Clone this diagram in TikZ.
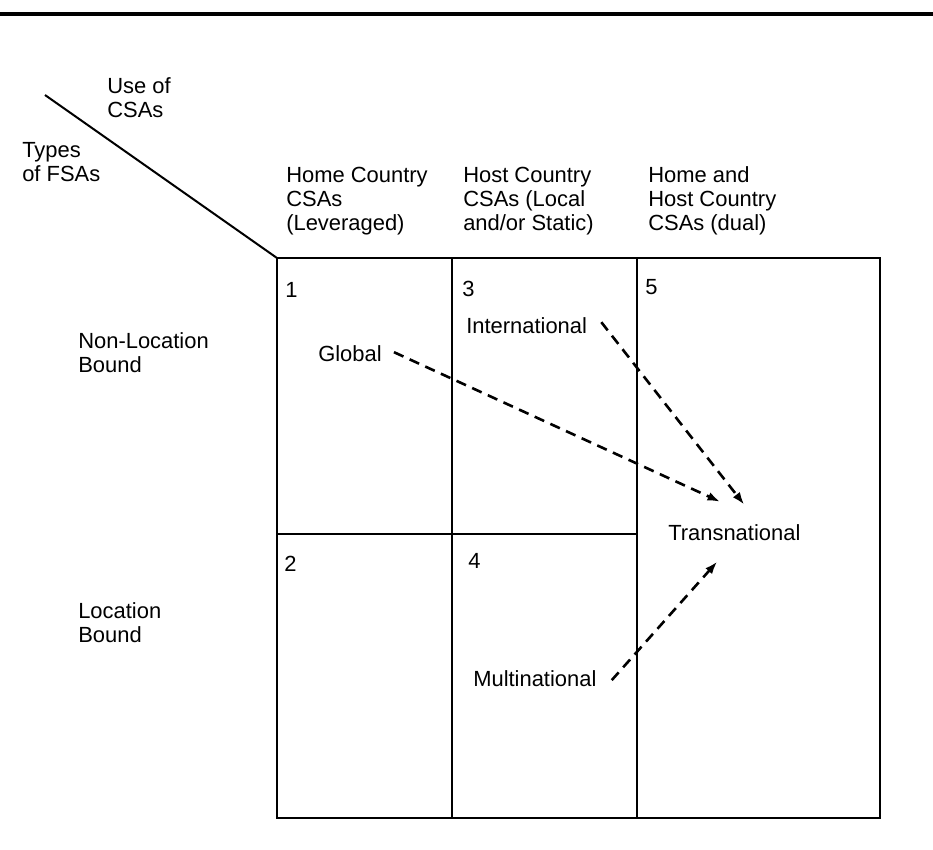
\documentclass[tikz,border=0pt]{standalone}
\usepackage{fontspec}
\setmainfont{Liberation Sans}
\usetikzlibrary{calc,arrows.meta}

\tikzset{
	lbl/.style={anchor=base west, inner sep=0pt, align=left, font=\fontsize{15.6}{17.0}\selectfont},
	gridline/.style={line width=0.7mm, color=black},
	dasharrow/.style={line width=0.65mm, dash pattern=on 0.26cm off 0.17cm, -{Latex[length=0.32cm,width=0.22cm]}}
}

\begin{document}
\begin{tikzpicture}[x=0.025cm, y=-0.025cm]
		%%%%% START %%%%%
		\useasboundingbox (0,0) rectangle (933,849);
		
		\draw[line width=0.8mm] (0,14) -- (933,14);
		\draw[line width=0.5mm] (45,95) -- (277,258);
		
		% base anchor = last line
		\node[lbl] (useof) at (107,117) {Use of\\CSAs};
		\node[lbl] (types) at (22,181) {Types\\of FSAs};
		
		\node[lbl] (colhome) at (286,230) {Home Country\\CSAs\\(Leveraged)};
		\node[lbl] (colhost) at (463,230) {Host Country\\CSAs (Local\\and/or Static)};
		\node[lbl] (coldual) at (648,230) {Home and\\Host Country\\CSAs (dual)};
		
		\draw[gridline] (277,258) rectangle (880,818);
		\draw[gridline] (452,258) -- (452,818);
		\draw[gridline] (637,258) -- (637,818);
		\draw[gridline] (277,534) -- (637,534);
		
		\node[lbl] (nr1) at (285,297) {1};
		\node[lbl] (nr3) at (462,296) {3};
		\node[lbl] (nr5) at (645,294) {5};
		\node[lbl] (nr2) at (284,571) {2};
		\node[lbl] (nr4) at (468,568) {4};
		
		\node[lbl] (nonloc) at (78,372) {Non-Location\\Bound};
		\node[lbl] (loc) at (78,642) {Location\\Bound};
		
		\node[lbl] (glob) at (318,361) {Global};
		\node[lbl] (intl) at (466,333) {International};
		\node[lbl] (trans) at (668,540) {Transnational};
		\node[lbl] (multi) at (473,686) {Multinational};
		
		\draw[dasharrow] ($(glob.east)+(12,-1)$) -- ($(trans.north)+(-14,-22)$);
		\draw[dasharrow] ($(intl.east)+(14,-3)$) -- ($(trans.north)+(10,-19)$);
		\draw[dasharrow] ($(multi.east)+(15,2)$) -- ($(trans.south)+(-17,21)$);
		
		%%%%% END %%%%%
\end{tikzpicture}
\end{document}
